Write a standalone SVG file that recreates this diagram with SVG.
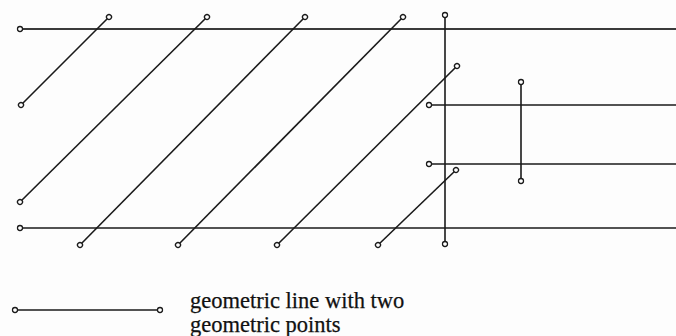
<svg xmlns="http://www.w3.org/2000/svg" width="676" height="336" viewBox="0 0 676 336">
  <style>
    .ln { stroke: #1a1a1a; stroke-width: 1.6; fill: none; }
    .thick { stroke: #3a3a3a; stroke-width: 2.2; }
    .txt { font-family: "Liberation Serif", "Times New Roman", serif; font-size: 22.5px; fill: #111111; stroke: #111111; stroke-width: 0.25; }
  </style>
  <defs>
    <marker id="pt" viewBox="-4 -4 8 8" markerWidth="8" markerHeight="8" refX="0" refY="0" markerUnits="userSpaceOnUse" orient="auto">
      <circle cx="0" cy="0" r="2.5" fill="#ffffff" stroke="#1a1a1a" stroke-width="1.3"/>
    </marker>
  </defs>
  <rect x="0" y="0" width="676" height="336" fill="#fdfdfd"/>
  <g id="connectors">
    <line id="top" class="ln thick" x1="20" y1="29" x2="676" y2="29" marker-start="url(#pt)"/>
    <line id="bottom" class="ln" x1="20" y1="228" x2="676" y2="228" marker-start="url(#pt)"/>
    <line id="d1" class="ln" x1="21" y1="105" x2="109" y2="17" marker-start="url(#pt)" marker-end="url(#pt)"/>
    <line id="d2" class="ln" x1="20" y1="202" x2="207" y2="17" marker-start="url(#pt)" marker-end="url(#pt)"/>
    <line id="d3" class="ln" x1="80" y1="245" x2="305" y2="17" marker-start="url(#pt)" marker-end="url(#pt)"/>
    <line id="d4" class="ln" x1="178" y1="245" x2="403" y2="17" marker-start="url(#pt)" marker-end="url(#pt)"/>
    <line id="d5" class="ln" x1="277" y1="245" x2="457" y2="66" marker-start="url(#pt)" marker-end="url(#pt)"/>
    <line id="d6" class="ln" x1="378" y1="245" x2="456" y2="170" marker-start="url(#pt)" marker-end="url(#pt)"/>
    <line id="v1" class="ln" x1="445" y1="15" x2="445" y2="244" marker-start="url(#pt)" marker-end="url(#pt)"/>
    <line id="h3" class="ln" x1="429" y1="105" x2="676" y2="105" marker-start="url(#pt)"/>
    <line id="h4" class="ln" x1="429" y1="164" x2="676" y2="164" marker-start="url(#pt)"/>
    <line id="v2" class="ln" x1="521" y1="82" x2="521" y2="181" marker-start="url(#pt)" marker-end="url(#pt)"/>
  </g>
  <g id="legend">
    <line class="ln" x1="15" y1="310" x2="160" y2="310" marker-start="url(#pt)" marker-end="url(#pt)"/>
    <text class="txt" x="190" y="308">geometric line with two</text>
    <text class="txt" x="190" y="332">geometric points</text>
  </g>
</svg>
